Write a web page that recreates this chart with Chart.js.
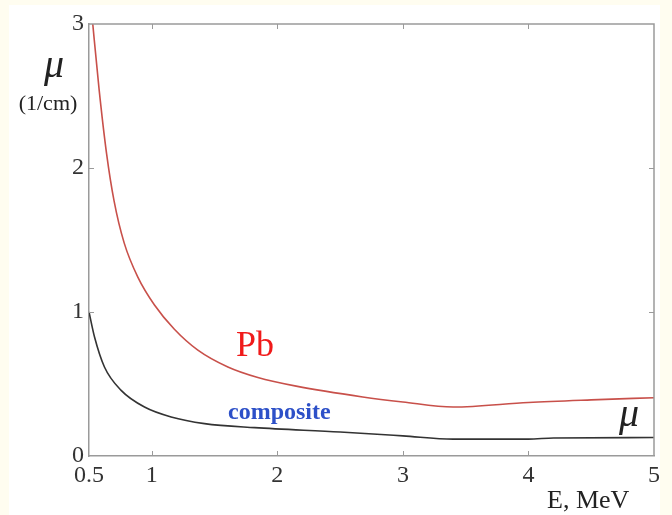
<!DOCTYPE html>
<html>
<head>
<meta charset="utf-8">
<script src="https://cdn.jsdelivr.net/npm/chart.js@4.4.1/dist/chart.umd.min.js"></script>
<style>
  html, body { margin: 0; padding: 0; background: #fffdf0; }
  #wrap { position: relative; width: 672px; height: 515px; }
  #sheet { position: absolute; left: 9px; top: 5px; width: 651px; height: 510px; background: #fff; }
  canvas { position: absolute; left: 0; top: 0; }
</style>
</head>
<body>
<div id="wrap">
  <div id="sheet"></div>
  <canvas id="chart" width="672" height="515"></canvas>
</div>
<script>
// energy in MeV, attenuation coefficient in 1/cm
const pbEnergy = [0.5, 0.53, 0.58, 0.64, 0.70, 0.78, 0.89, 1.02, 1.18, 1.367, 1.606, 1.845, 2.15, 2.68, 3.0, 3.4, 4.0, 4.5, 5.0];
const pbMu     = [3.28, 3.0, 2.55, 2.10, 1.77, 1.48, 1.24, 1.05, 0.88, 0.735, 0.618, 0.545, 0.485, 0.41, 0.375, 0.34, 0.372, 0.39, 0.405];
const compEnergy = [0.5, 0.544, 0.623, 0.756, 0.942, 1.154, 1.42, 1.82, 2.5, 3.0, 3.4, 4.0, 4.2, 5.0];
const compMu     = [1.0, 0.826, 0.618, 0.456, 0.34, 0.271, 0.225, 0.197, 0.167, 0.14, 0.117, 0.117, 0.125, 0.128];
const xTicks = [0.5, 1, 2, 3, 4, 5];
const yTicks = [0, 1, 2, 3];

const SERIF = '"Liberation Serif", "DejaVu Serif", serif';

function toPoints(xs, ys) {
  return xs.map((x, i) => ({ x: x, y: ys[i] }));
}

// frame on top/right plus small inward tick marks on all four sides
const framePlugin = {
  id: 'frame',
  afterDraw(chart) {
    const ctx = chart.ctx;
    const a = chart.chartArea;
    const xs = chart.scales.x, ys = chart.scales.y;
    ctx.save();
    ctx.strokeStyle = '#9a9a9a';
    ctx.lineWidth = 1.5;
    ctx.beginPath();
    ctx.moveTo(a.left, a.top);
    ctx.lineTo(a.right, a.top);
    ctx.lineTo(a.right, a.bottom);
    ctx.stroke();
    ctx.lineWidth = 1;
    ctx.beginPath();
    xTicks.slice(1, -1).forEach(v => {
      const px = Math.round(xs.getPixelForValue(v)) + 0.5;
      ctx.moveTo(px, a.bottom); ctx.lineTo(px, a.bottom - 5);
      ctx.moveTo(px, a.top); ctx.lineTo(px, a.top + 5);
    });
    yTicks.slice(1, -1).forEach(v => {
      const py = Math.round(ys.getPixelForValue(v)) + 0.5;
      ctx.moveTo(a.left, py); ctx.lineTo(a.left + 5, py);
      ctx.moveTo(a.right, py); ctx.lineTo(a.right - 5, py);
    });
    ctx.stroke();

    ctx.textBaseline = 'alphabetic';
    ctx.fillStyle = '#222';
    ctx.font = 'italic 40px ' + SERIF;
    ctx.fillText('\u03bc', 44, 77);
    ctx.fillText('\u03bc', 619, 426);
    ctx.font = '22px ' + SERIF;
    ctx.textAlign = 'center';
    ctx.fillText('(1/cm)', 48, 110);
    ctx.textAlign = 'left';
    ctx.font = '26px ' + SERIF;
    ctx.fillText('E, MeV', 547, 508);
    ctx.fillStyle = '#f01a1a';
    ctx.font = '36px ' + SERIF;
    ctx.fillText('Pb', 236, 356);
    ctx.fillStyle = '#2d50c8';
    ctx.font = 'bold 24px ' + SERIF;
    ctx.fillText('composite', 228, 419);
    ctx.restore();
  }
};

new Chart(document.getElementById('chart'), {
  type: 'line',
  data: {
    datasets: [
      {
        label: 'Pb',
        data: toPoints(pbEnergy, pbMu),
        borderColor: '#c8504a',
        borderWidth: 1.6,
        pointRadius: 0,
        cubicInterpolationMode: 'monotone'
      },
      {
        label: 'composite',
        data: toPoints(compEnergy, compMu),
        borderColor: '#333333',
        borderWidth: 1.6,
        pointRadius: 0,
        cubicInterpolationMode: 'monotone'
      }
    ]
  },
  options: {
    responsive: false,
    animation: false,
    layout: { padding: { top: 24, right: 18, bottom: 0, left: 0 } },
    plugins: { legend: { display: false }, tooltip: { enabled: false } },
    scales: {
      x: {
        type: 'linear',
        min: 0.5,
        max: 5,
        afterBuildTicks: s => { s.ticks = xTicks.map(v => ({ value: v })); },
        afterFit: s => { s.height = 59; },
        grid: { display: false, drawTicks: false },
        border: { display: true, color: '#9a9a9a', width: 1.5 },
        ticks: {
          padding: 5,
          color: '#333',
          font: { family: SERIF, size: 24 },
          maxRotation: 0,
          autoSkip: false,
          callback: v => String(v)
        }
      },
      y: {
        min: 0,
        max: 3,
        afterBuildTicks: s => { s.ticks = yTicks.map(v => ({ value: v })); },
        afterFit: s => { s.width = 89; },
        grid: { display: false, drawTicks: false },
        border: { display: true, color: '#9a9a9a', width: 1.5 },
        ticks: {
          padding: 5,
          color: '#333',
          font: { family: SERIF, size: 24 },
          callback: v => String(v)
        }
      }
    }
  },
  plugins: [framePlugin]
});
</script>
</body>
</html>
